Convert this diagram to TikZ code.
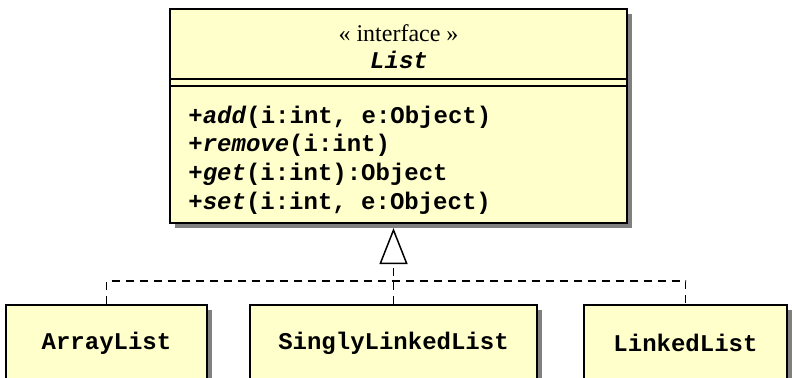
\documentclass[tikz,border=0pt]{standalone}
\usepackage{fontspec}
\setmainfont{Liberation Serif}
\setmonofont{Liberation Mono}
\usetikzlibrary{shadows,arrows.meta,positioning}
\definecolor{umlfill}{RGB}{255,255,204}
\tikzset{
  classbox/.style={draw,line width=1pt,fill=umlfill,
    drop shadow={shadow xshift=2.5pt,shadow yshift=-2.5pt,fill=black!50,opacity=1},
    font=\fontsize{12}{14.3}\selectfont\ttfamily\bfseries},
  dashline/.style={line width=0.75pt,dash pattern=on 4pt off 3pt},
  realize/.style={dashline,-{Triangle[open,length=18pt,width=14pt]},shorten >=2pt},
}

\begin{document}
\begin{tikzpicture}[x=1pt,y=1pt]
  \useasboundingbox (0,0) rectangle (396,188.5);
  % interface
  \node[classbox,minimum width=228.5pt,minimum height=107pt](list) at (199.25,130.5){};
  \node[font=\fontsize{12}{14}\selectfont](stereo) at (199.25,172){« interface »};
  \node[font=\fontsize{12}{14}\selectfont\ttfamily\bfseries\itshape](name) at (199.5,158.5){List};
  \draw[line width=1pt]([yshift=-35.5pt]list.north west)--([yshift=-35.5pt]list.north east);
  \draw[line width=1pt]([yshift=-39pt]list.north west)--([yshift=-39pt]list.north east);
  \node[font=\fontsize{12}{14.3}\selectfont\ttfamily\bfseries,align=left,anchor=west,inner sep=0](ops) at (94,108.5)
    {+\textit{add}(i:int, e:Object)\\+\textit{remove}(i:int)\\+\textit{get}(i:int):Object\\+\textit{set}(i:int, e:Object)};
  % implementations
  \node[classbox,minimum width=100.5pt,minimum height=38pt](arraylist) at (53.25,17){ArrayList};
  \node[classbox,minimum width=143.5pt,minimum height=38pt](singly) at (196.75,17){SinglyLinkedList};
  \node[classbox,minimum width=101.5pt,minimum height=38pt](linked) at (342.75,17){LinkedList};
  \coordinate[above=11.5pt of singly.north](fork);
  \draw[dashline](arraylist.north)|-(fork)-|(linked.north);
  \draw[realize](singly.north)--(singly.north|-list.south);
\end{tikzpicture}
\end{document}
